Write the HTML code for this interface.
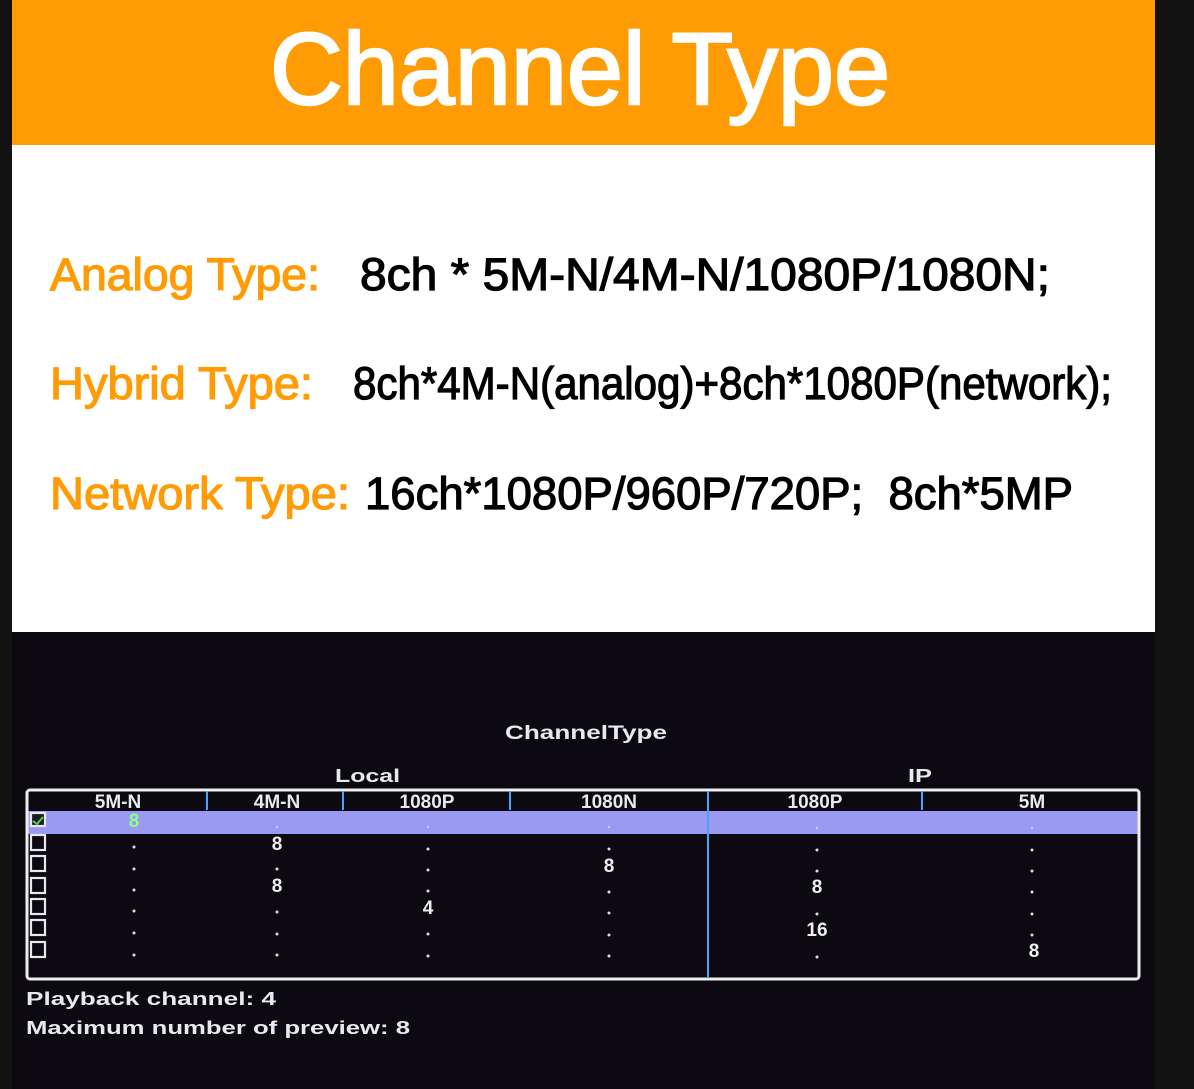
<!DOCTYPE html>
<html><head><meta charset="utf-8"><style>
html,body{margin:0;padding:0;background:#111;}
svg{display:block}
</style></head><body>
<svg width="1194" height="1089" viewBox="0 0 1194 1089" xmlns="http://www.w3.org/2000/svg" font-family="Liberation Sans, sans-serif">
<rect width="1194" height="1089" fill="#121212"/>
<rect x="12" y="0" width="1143" height="145" fill="#ff9b05"/>
<rect x="12" y="145" width="1143" height="487" fill="#ffffff"/>
<rect x="12" y="632" width="1143" height="457" fill="#0c0a10"/>
<text x="270" y="104" font-size="102" fill="#fff" stroke="#fff" stroke-width="2.5" textLength="620" lengthAdjust="spacingAndGlyphs">Channel Type</text>
<g font-size="45" stroke-width="1.2">
<text x="50" y="290" fill="#ff9b05" stroke="#ff9b05" textLength="270" lengthAdjust="spacingAndGlyphs">Analog Type:</text>
<text x="360" y="290" fill="#000" stroke="#000" textLength="690" lengthAdjust="spacingAndGlyphs">8ch * 5M-N/4M-N/1080P/1080N;</text>
<text x="50" y="399" fill="#ff9b05" stroke="#ff9b05" textLength="263" lengthAdjust="spacingAndGlyphs">Hybrid Type:</text>
<text x="353" y="399" fill="#000" stroke="#000" textLength="759" lengthAdjust="spacingAndGlyphs">8ch*4M-N(analog)+8ch*1080P(network);</text>
<text x="50" y="509" fill="#ff9b05" stroke="#ff9b05" textLength="300" lengthAdjust="spacingAndGlyphs">Network Type:</text>
<text x="365" y="509" fill="#000" stroke="#000" textLength="708" lengthAdjust="spacingAndGlyphs" xml:space="preserve">16ch*1080P/960P/720P;  8ch*5MP</text>
</g>
<g font-weight="bold" fill="#e8e8f0">
<text x="505" y="739" font-size="19" textLength="162" lengthAdjust="spacingAndGlyphs">ChannelType</text>
<text x="335" y="782" font-size="18" textLength="65" lengthAdjust="spacingAndGlyphs">Local</text>
<text x="908" y="782" font-size="18" textLength="24" lengthAdjust="spacingAndGlyphs">IP</text>
<text x="26" y="1005" font-size="18" textLength="250" lengthAdjust="spacingAndGlyphs">Playback channel: 4</text>
<text x="26" y="1034" font-size="18" textLength="384" lengthAdjust="spacingAndGlyphs">Maximum number of preview: 8</text>
</g>
<rect x="27" y="790" width="1112" height="189" fill="none" stroke="#eee" stroke-width="3" rx="3"/>
<rect x="28.5" y="811" width="1109" height="23" fill="#9b9af2"/>
<g stroke="#4aa3ff" stroke-width="2">
<line x1="207" y1="791" x2="207" y2="810"/>
<line x1="343" y1="791" x2="343" y2="810"/>
<line x1="510" y1="791" x2="510" y2="810"/>
<line x1="922" y1="791" x2="922" y2="810"/>
<line x1="708" y1="791" x2="708" y2="978"/>
</g>
<g font-size="19" font-weight="bold" fill="#e8e8f0" text-anchor="middle">
<text x="118" y="808">5M-N</text>
<text x="277" y="808">4M-N</text>
<text x="427" y="808">1080P</text>
<text x="609" y="808">1080N</text>
<text x="815" y="808">1080P</text>
<text x="1032" y="808">5M</text>
</g>
<g fill="none" stroke="#e8e8f0" stroke-width="2.2">
<rect x="31" y="813" width="14" height="13" fill="#1c1c1c"/>
<rect x="31" y="835" width="14" height="15"/>
<rect x="31" y="856" width="14" height="15"/>
<rect x="31" y="878" width="14" height="15"/>
<rect x="31" y="899" width="14" height="15"/>
<rect x="31" y="920" width="14" height="15"/>
<rect x="31" y="942" width="14" height="15"/>
</g>
<path d="M33 821 l4 3 l6 -7" stroke="#5c5" stroke-width="2" fill="none"/>
<g font-size="19" font-weight="bold" fill="#eee" text-anchor="middle">
<text x="134" y="827" fill="#8f8">8</text>
<text x="277" y="850">8</text>
<text x="277" y="892">8</text>
<text x="428" y="914">4</text>
<text x="609" y="872">8</text>
<text x="817" y="893">8</text>
<text x="817" y="936">16</text>
<text x="1034" y="957">8</text>
</g>
<g fill="#ddd">
<circle cx="277" cy="827" r="1.3" fill="#cce"/><circle cx="428" cy="827" r="1.3" fill="#cce"/><circle cx="609" cy="827" r="1.3" fill="#cce"/><circle cx="817" cy="828" r="1.3" fill="#cce"/><circle cx="1032" cy="828" r="1.3" fill="#cce"/>
<circle cx="134" cy="847" r="1.5"/><circle cx="134" cy="869" r="1.5"/><circle cx="134" cy="890" r="1.5"/><circle cx="134" cy="911" r="1.5"/><circle cx="134" cy="933" r="1.5"/><circle cx="134" cy="955" r="1.5"/>
<circle cx="277" cy="869" r="1.5"/><circle cx="277" cy="912" r="1.5"/><circle cx="277" cy="934" r="1.5"/><circle cx="277" cy="955" r="1.5"/>
<circle cx="428" cy="849" r="1.5"/><circle cx="428" cy="870" r="1.5"/><circle cx="428" cy="891" r="1.5"/><circle cx="428" cy="934" r="1.5"/><circle cx="428" cy="956" r="1.5"/>
<circle cx="609" cy="849" r="1.5"/><circle cx="609" cy="892" r="1.5"/><circle cx="609" cy="913" r="1.5"/><circle cx="609" cy="935" r="1.5"/><circle cx="609" cy="956" r="1.5"/>
<circle cx="817" cy="850" r="1.5"/><circle cx="817" cy="871" r="1.5"/><circle cx="817" cy="914" r="1.5"/><circle cx="817" cy="957" r="1.5"/>
<circle cx="1032" cy="850" r="1.5"/><circle cx="1032" cy="871" r="1.5"/><circle cx="1032" cy="892" r="1.5"/><circle cx="1032" cy="914" r="1.5"/><circle cx="1032" cy="935" r="1.5"/>
</g>
</svg>
</body></html>
